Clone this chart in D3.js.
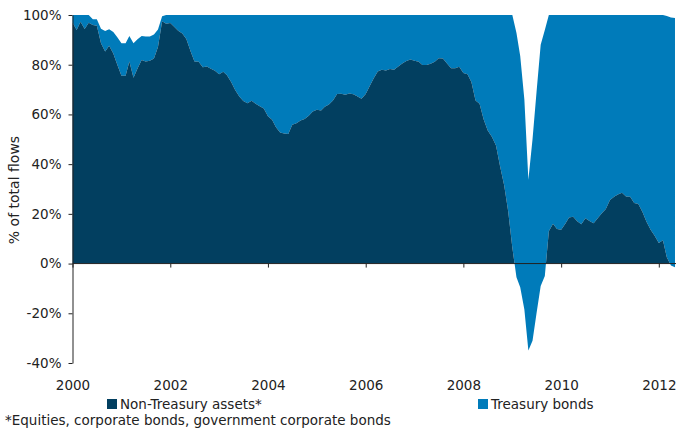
<!DOCTYPE html>
<html>
<head>
<meta charset="utf-8">
<script src="https://cdn.jsdelivr.net/npm/d3@7"></script>
<style>
  body { margin: 0; background: #fff; }
  text { font-family: "DejaVu Sans", Verdana, sans-serif; fill: #222; }
</style>
</head>
<body>
<div id="chart"></div>
<script>
// monthly share of total flows (%), Jan 2000 .. May 2012
var nonTreasury = [
  97, 94, 97.3, 94.4, 96.9, 96, 95.7, 88.6, 85.3, 87.6, 84.5, 80,
  75.6, 75.6, 81.3, 74.8, 78.5, 81.9, 81.3, 81.6, 82.5, 87.1, 97.5, 96.5,
  96.8, 95.2, 93.7, 92.6, 90.3, 85.5, 81.3, 81.2, 79, 79.3, 78.4, 77.6,
  76.2, 77.2, 75.8, 73, 69.8, 67.2, 65.4, 64.5, 65.5, 64.3, 63.3, 62.4,
  59.3, 57.9, 54.8, 52.7, 52.3, 52.1, 55.8, 56.5, 57.6, 58.2, 59.5, 61.2,
  61.9, 61.6, 63.1, 64, 65.6, 68.2, 68.3, 67.9, 68.4, 68.1, 67.2, 66.3,
  68.2, 71.5, 74.5, 77.3, 78, 77.7, 78.3, 78, 79.3, 80.5, 81.5, 82.1,
  81.6, 81.2, 79.9, 79.9, 80.4, 81.2, 82.6, 82.5, 80.5, 78.6, 78.6, 79.2,
  76.7, 76.2, 73, 65.6, 64.3, 58, 53.5, 51, 47.5, 39.3, 31.5, 21,
  6.5, -5.5, -9.5, -18.5, -35, -31, -20, -9, -5, 13, 16, 13.9,
  13.6, 16, 18.5, 18.8, 17, 15.8, 18.2, 17.1, 16.2, 18.2, 20.2, 22,
  25.6, 26.9, 27.8, 28.5, 27, 26.9, 24.4, 24, 20.7, 16.8, 13.6, 11.2,
  8.3, 9.4, 2.5, -0.8, -1.5
];
var treasury = [
  3, 6, 2.7, 5.6, 3.1, 2.3, 2.6, 5.9, 8.3, 6.7, 8.7, 11,
  13, 13, 10.3, 13.8, 11.7, 9.7, 10.1, 9.8, 9.7, 7.1, 2, 3.5,
  3.2, 4.8, 6.3, 7.4, 9.7, 14.5, 18.7, 18.8, 21, 20.7, 21.6, 22.4,
  23.8, 22.8, 24.2, 27, 30.2, 32.8, 34.6, 35.5, 34.5, 35.7, 36.7, 37.6,
  40.7, 42.1, 45.2, 47.3, 47.7, 47.9, 44.2, 43.5, 42.4, 41.8, 40.5, 38.8,
  38.1, 38.4, 36.9, 36, 34.4, 31.8, 31.7, 32.1, 31.6, 31.9, 32.8, 33.7,
  31.8, 28.5, 25.5, 22.7, 22, 22.3, 21.7, 22, 20.7, 19.5, 18.5, 17.9,
  18.4, 18.8, 20.1, 20.1, 19.6, 18.8, 17.4, 17.5, 19.5, 21.4, 21.4, 20.8,
  23.3, 23.8, 27, 34.4, 35.7, 42, 46.5, 49, 52.5, 60.7, 68.5, 79,
  93.5, 98.3, 93, 84.5, 68.7, 81, 89, 97, 99, 87, 84, 86.1,
  86.4, 84, 81.5, 81.2, 83, 84.2, 81.8, 82.9, 83.8, 81.8, 79.8, 78,
  74.4, 73.1, 72.2, 71.5, 73, 73.1, 75.6, 76, 79.3, 83.2, 86.4, 88.8,
  91.7, 90.6, 97.1, 99.8, 100.3
];
var yTicks = [-40, -20, 0, 20, 40, 60, 80, 100];
var xTickYears = [2000, 2002, 2004, 2006, 2008, 2010, 2012];
var seriesNames = ["Non-Treasury assets*", "Treasury bonds"];
var seriesColors = ["#023f60", "#007bba"];
var yTitle = "% of total flows";
var footnote = "*Equities, corporate bonds, government corporate bonds";

var months = d3.timeMonth.range(new Date(2000, 0, 1), new Date(2000, nonTreasury.length, 1));
var data = months.map(function (d, i) {
  return { date: d, nt: nonTreasury[i], tr: treasury[i] };
});

var width = 676, height = 430;

var svg = d3.select("#chart")
  .append("svg")
  .attr("width", width)
  .attr("height", height);

var x = d3.scaleTime()
  .domain([new Date(2000, 0, 1), new Date(2012, 0, 1)])
  .range([72.5, 658.8]);

var y = d3.scaleLinear()
  .domain([-40, 100])
  .range([363, 15]);

// dark series only shows above zero
svg.append("clipPath")
  .attr("id", "aboveZero")
  .append("rect")
  .attr("x", 0)
  .attr("y", 0)
  .attr("width", width)
  .attr("height", y(0));

// Treasury bonds stacked on top of Non-Treasury
svg.append("path")
  .datum(data)
  .attr("fill", seriesColors[1])
  .attr("d", d3.area()
    .x(function (d) { return x(d.date); })
    .y0(function (d) { return y(d.nt); })
    .y1(function (d) { return y(d.nt + d.tr); }));

svg.append("path")
  .datum(data)
  .attr("fill", seriesColors[0])
  .attr("clip-path", "url(#aboveZero)")
  .attr("d", d3.area()
    .x(function (d) { return x(d.date); })
    .y0(y(0))
    .y1(function (d) { return y(d.nt); }));

// Y axis
var yAxis = svg.append("g")
  .attr("transform", "translate(72.5,0)")
  .call(d3.axisLeft(y)
    .tickValues(yTicks)
    .tickFormat(function (d) { return d + "%"; })
    .tickSize(4)
    .tickSizeOuter(0)
    .tickPadding(7));
yAxis.selectAll("text").style("font-size", "13.5px").style("font-family", "DejaVu Sans, Verdana, sans-serif");
yAxis.selectAll("line, path").attr("stroke", "#222");

// X axis on the zero line, labels at the bottom
var xAxis = svg.append("g")
  .attr("transform", "translate(0," + y(0) + ")")
  .call(d3.axisBottom(x)
    .tickValues(xTickYears.map(function (yr) { return new Date(yr, 0, 1); }))
    .tickFormat(d3.timeFormat("%Y"))
    .tickSize(4)
    .tickSizeOuter(0));
xAxis.select(".domain").remove();
xAxis.selectAll("line").attr("stroke", "#222");
xAxis.selectAll("text")
  .attr("y", 380.5 - y(0))
  .style("font-size", "13.5px")
  .style("font-family", "DejaVu Sans, Verdana, sans-serif");
xAxis.append("line")
  .attr("x1", 72.5)
  .attr("x2", width)
  .attr("y1", 0)
  .attr("y2", 0)
  .attr("stroke", "#222")
  .attr("stroke-width", 1);

// Y title
svg.append("text")
  .attr("transform", "translate(19,190) rotate(-90)")
  .attr("text-anchor", "middle")
  .style("font-size", "14px")
  .text(yTitle);

// legend
var legendX = [107, 478];
seriesNames.forEach(function (name, i) {
  svg.append("rect")
    .attr("x", legendX[i])
    .attr("y", 399)
    .attr("width", 10)
    .attr("height", 10)
    .attr("fill", seriesColors[i]);
  svg.append("text")
    .attr("x", legendX[i] + 13)
    .attr("y", 409)
    .style("font-size", "13.5px")
    .text(name);
});

svg.append("text")
  .attr("x", 5)
  .attr("y", 425)
  .style("font-size", "13.5px")
  .text(footnote);
</script>
</body>
</html>
